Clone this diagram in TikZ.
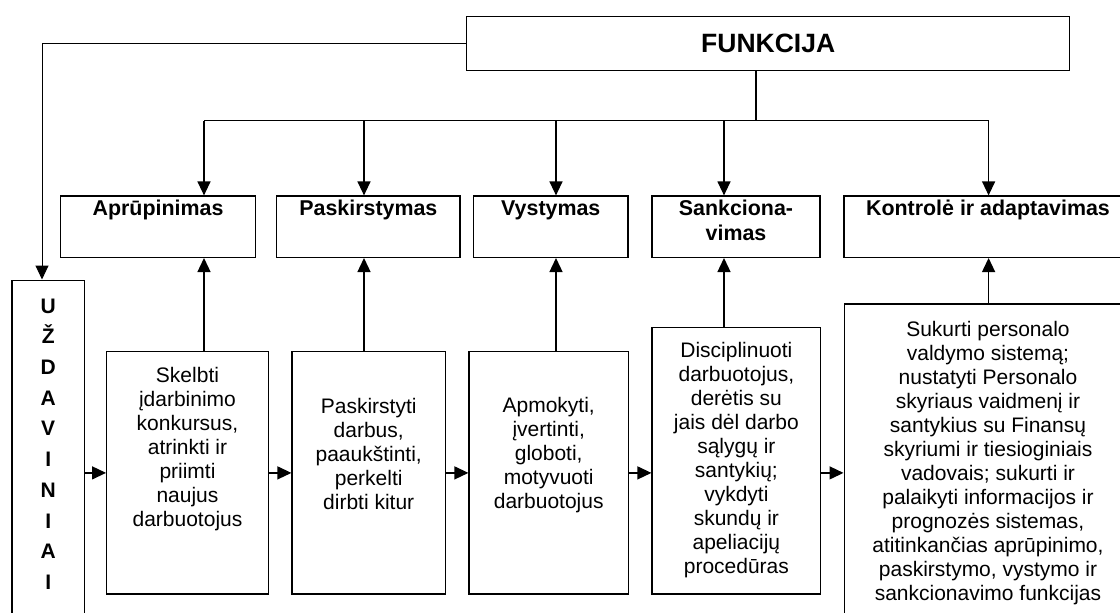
\documentclass[tikz,border=0pt]{standalone}
\usepackage{fontspec}
\setmainfont{Liberation Sans}
\usetikzlibrary{arrows.meta}

\begin{document}
\begin{tikzpicture}[x=1pt, y=-1pt,
    box/.style={draw, line width=1.3pt, inner sep=0pt},
    txt/.style={inner sep=0pt, align=center, anchor=north, font=\fontsize{21}{24}\selectfont},
    head/.style={inner sep=0pt, align=center, anchor=north, font=\fontsize{21.4}{25}\selectfont\bfseries},
    headone/.style={head, text height=15.5pt},
    arr/.style={line width=1.3pt, -{Triangle[length=14pt, width=13pt]}}
]

    \useasboundingbox (0,0) rectangle (1120,613);
    \clip (0,0) rectangle (1120,613);

    % ==========================================
    % FUNCTION BOX AND TASK COLUMN
    % ==========================================

    \node[box, minimum width=602.8, minimum height=53.6, font=\fontsize{26.5}{30}\selectfont\bfseries] (f) at (768.2,43.6) {FUNKCIJA};

    \node[box, minimum width=72.3, minimum height=359.7] (uzd) at (48.2,460) {};
    \node[inner sep=0pt, anchor=north, align=center, font=\fontsize{21}{30.7}\selectfont\bfseries] (u) at ([yshift=-19pt]uzd.north) {U\\Ž\\D\\A\\V\\I\\N\\I\\A\\I};

    % ==========================================
    % TOP ROW: the five functions
    % ==========================================

    \node[box, minimum width=194.6, minimum height=61.3] (t1) at (158,226.7) {};
    \node[box, minimum width=183.2, minimum height=61.3] (t2) at (368.4,226.7) {};
    \node[box, minimum width=154.4, minimum height=61.3] (t3) at (550.8,226.7) {};
    \node[box, minimum width=168, minimum height=61.3] (t4) at (736,226.7) {};
    \node[box, minimum width=288, minimum height=61.3] (t5) at (988,226.7) {};

    \node[headone] (h1) at ([yshift=-4pt]t1.north) {Aprūpinimas};
    \node[headone] (h2) at ([yshift=-4pt]t2.north) {Paskirstymas};
    \node[headone] (h3) at ([yshift=-4pt]t3.north) {Vystymas};
    \node[head] (h4) at ([yshift=-4pt]t4.north) {Sankciona-\\vimas};
    \node[headone] (h5) at ([yshift=-4pt]t5.north) {Kontrolė ir adaptavimas};

    % ==========================================
    % BOTTOM ROW: the tasks of each function
    % ==========================================

    \node[box, minimum width=161.6, minimum height=242.3] (b1) at (187.5,472.9) {};
    \node[box, minimum width=153.3, minimum height=242.3] (b2) at (368.7,472.9) {};
    \node[box, minimum width=159.3, minimum height=242.3] (b3) at (548.7,472.9) {};
    \node[box, minimum width=168.7, minimum height=266.3] (b4) at (736.4,460.9) {};
    \node[box, minimum width=287.7, minimum height=336] (b5) at (988,472) {};

    \node[txt] (s1) at ([yshift=-16pt]b1.north) {Skelbti\\įdarbinimo\\konkursus,\\atrinkti ir\\priimti\\naujus\\darbuotojus};
    \node[txt] (s2) at ([yshift=-47pt]b2.north) {Paskirstyti\\darbus,\\paaukštinti,\\perkelti\\dirbti kitur};
    \node[txt] (s3) at ([yshift=-46pt]b3.north) {Apmokyti,\\įvertinti,\\globoti,\\motyvuoti\\darbuotojus};
    \node[txt] (s4) at ([yshift=-15pt]b4.north) {Disciplinuoti\\darbuotojus,\\derėtis su\\jais dėl darbo\\sąlygų ir\\santykių;\\vykdyti\\skundų ir\\apeliacijų\\procedūras};
    \node[txt] (s5) at ([yshift=-18pt]b5.north) {Sukurti personalo\\valdymo sistemą;\\nustatyti Personalo\\skyriaus vaidmenį ir\\santykius su Finansų\\skyriumi ir tiesioginiais\\vadovais; sukurti ir\\palaikyti informacijos ir\\prognozės sistemas,\\atitinkančias aprūpinimo,\\paskirstymo, vystymo ir\\sankcionavimo funkcijas};

    % ==========================================
    % CONNECTORS
    % ==========================================

    % bus under the function box
    \coordinate (j) at (756,120.7);
    \coordinate (k1) at (204,120.7);
    \coordinate (k2) at (364,120.7);
    \coordinate (k3) at (556,120.7);
    \coordinate (k4) at (724,120.7);
    \coordinate (k5) at (988.6,120.7);
    \coordinate (c0) at (42,0);

    \draw[line width=1.3pt] (j |- f.south) -- (j);
    \draw[line width=1.3pt] (k1) -- (k5);
    \foreach \k/\t/\b in {k1/t1/b1, k2/t2/b2, k3/t3/b3, k4/t4/b4, k5/t5/b5} {
        \draw[arr] (\k) -- (\k |- \t.north);
        \draw[arr] (\b.north -| \k) -- (\k |- \t.south);
    }

    % function box down to the tasks column
    \draw[line width=1pt, -{Triangle[length=14pt, width=13pt]}] (f.west) -| (c0 |- uzd.north);

    % left to right along the bottom row
    \draw[arr] (uzd.east |- b1.west) -- (b1.west);
    \draw[arr] (b1.east) -- (b2.west);
    \draw[arr] (b2.east) -- (b3.west);
    \draw[arr] (b3.east) -- (b4.west |- b3.east);
    \draw[arr] (b4.east |- b3.east) -- (b5.west |- b3.east);

\end{tikzpicture}
\end{document}
